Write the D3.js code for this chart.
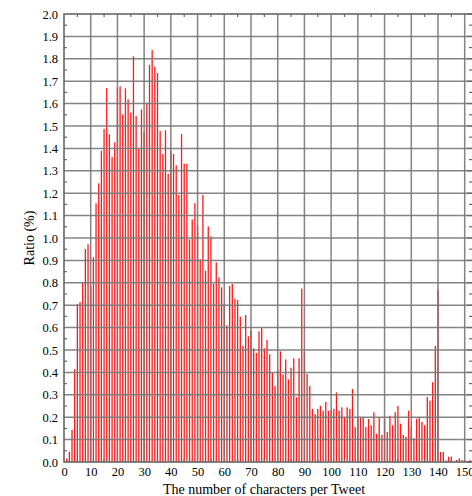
<!DOCTYPE html>
<html>
<head>
<meta charset="utf-8">
<script src="https://cdn.jsdelivr.net/npm/d3@7"></script>
<style>
  body { margin: 0; background: #fff; }
  svg { display: block; }
</style>
</head>
<body>
<div id="vis"></div>
<script>
// tweet length (characters) starts at 1, one ratio (%) per length
const firstLength = 1;
const ratio = [
  0.016, 0.046, 0.143, 0.414, 0.705, 0.714, 0.802, 0.951, 0.972, 0.783,
  0.914, 1.155, 1.244, 1.390, 1.487, 1.670, 1.463, 1.362, 1.427, 1.670,
  1.677, 1.552, 1.668, 1.619, 1.560, 1.811, 1.545, 1.400, 1.574, 1.472,
  1.604, 1.774, 1.839, 1.765, 1.737, 1.478, 1.375, 1.481, 1.287, 1.390,
  1.375, 1.324, 1.192, 1.464, 1.332, 1.332, 0.994, 1.083, 1.156, 1.055,
  0.905, 1.192, 0.854, 1.052, 1.007, 0.795, 0.891, 0.824, 0.780, 0.705,
  0.610, 0.786, 0.795, 0.729, 0.723, 0.649, 0.518, 0.656, 0.561, 0.589,
  0.507, 0.487, 0.583, 0.600, 0.507, 0.545, 0.481, 0.399, 0.339, 0.411,
  0.494, 0.391, 0.458, 0.369, 0.421, 0.463, 0.289, 0.463, 0.774, 0.493,
  0.393, 0.339, 0.237, 0.214, 0.237, 0.251, 0.229, 0.268, 0.229, 0.232,
  0.237, 0.311, 0.229, 0.244, 0.200, 0.244, 0.237, 0.326, 0.156, 0.199,
  0.199, 0.199, 0.156, 0.192, 0.164, 0.222, 0.126, 0.199, 0.121, 0.195,
  0.134, 0.207, 0.164, 0.222, 0.251, 0.171, 0.121, 0.113, 0.229, 0.156,
  0.106, 0.193, 0.199, 0.179, 0.164, 0.290, 0.274, 0.356, 0.518, 0.768,
  0.045, 0.045, 0.007, 0.024, 0.024, 0.003, 0.009, 0.016, 0.009, 0.009,
  0.005, 0.009
];
const xTicks = [0, 10, 20, 30, 40, 50, 60, 70, 80, 90, 100, 110, 120, 130, 140, 150];
const yTicks = [0.0, 0.1, 0.2, 0.3, 0.4, 0.5, 0.6, 0.7, 0.8, 0.9, 1.0,
                1.1, 1.2, 1.3, 1.4, 1.5, 1.6, 1.7, 1.8, 1.9, 2.0];
const xMinor = [5, 15, 25, 35, 45, 55, 65, 75, 85, 95, 105, 115, 125, 135, 145];
const yMinor = yTicks.slice(0, -1).map(v => v + 0.05);

const data = ratio.map((r, i) => ({len: firstLength + i, ratio: r}));

const width = 472;
const height = 496;
const margin = ({top: 14, left: 64, bottom: 34});
const plotRight = 473;   // the frame sits just past the picture edge
const font = 'Liberation Serif, Times New Roman, serif';

const svg = d3.create('svg')
    .attr('width', width)
    .attr('height', height);

// 150 falls at ~465px, the axis box runs on a bit further
const xScale = d3.scaleLinear()
    .domain([0, 150])
    .range([margin.left, margin.left + 400.7]);

const yScale = d3.scaleLinear()
    .domain([0, 2])
    .range([height - margin.bottom, margin.top]);

const y0 = yScale(0);

// bars
svg.append('g')
    .selectAll('rect')
    .data(data)
    .join('rect')
    .attr('x', d => xScale(d.len) - 0.65)
    .attr('y', d => yScale(d.ratio))
    .attr('width', 1.3)
    .attr('height', d => y0 - yScale(d.ratio))
    .attr('fill', '#ff1a1a');

// grid
const grid = svg.append('g')
    .attr('stroke', '#777')
    .attr('stroke-width', 1.5)
    .attr('stroke-opacity', 0.9);

grid.selectAll('.hgrid')
    .data(yTicks.slice(1, -1))
    .join('line')
    .attr('x1', margin.left)
    .attr('x2', plotRight)
    .attr('y1', d => yScale(d))
    .attr('y2', d => yScale(d));

grid.selectAll('.vgrid')
    .data(xTicks.slice(1))
    .join('line')
    .attr('x1', d => xScale(d))
    .attr('x2', d => xScale(d))
    .attr('y1', margin.top)
    .attr('y2', y0);

// minor ticks, inward, on all four sides
const ticks = svg.append('g')
    .attr('stroke', '#666')
    .attr('stroke-width', 1.2);

ticks.selectAll('.lt')
    .data(yMinor)
    .join('line')
    .attr('x1', margin.left)
    .attr('x2', margin.left + 3)
    .attr('y1', d => yScale(d))
    .attr('y2', d => yScale(d));

ticks.selectAll('.rt')
    .data(yMinor)
    .join('line')
    .attr('x1', plotRight - 4)
    .attr('x2', plotRight)
    .attr('y1', d => yScale(d))
    .attr('y2', d => yScale(d));

ticks.selectAll('.rtm')
    .data(yTicks)
    .join('line')
    .attr('x1', plotRight - 6)
    .attr('x2', plotRight)
    .attr('y1', d => yScale(d))
    .attr('y2', d => yScale(d));

ticks.selectAll('.tt')
    .data(xMinor)
    .join('line')
    .attr('x1', d => xScale(d))
    .attr('x2', d => xScale(d))
    .attr('y1', margin.top)
    .attr('y2', margin.top + 3);

ticks.selectAll('.bt')
    .data(xMinor)
    .join('line')
    .attr('x1', d => xScale(d))
    .attr('x2', d => xScale(d))
    .attr('y1', y0)
    .attr('y2', y0 - 3);

// frame
svg.append('rect')
    .attr('x', margin.left)
    .attr('y', margin.top)
    .attr('width', plotRight - margin.left)
    .attr('height', y0 - margin.top)
    .attr('fill', 'none')
    .attr('stroke', '#666')
    .attr('stroke-width', 1.6);

// y labels
const yAxis = d3.axisLeft(yScale)
    .tickValues(yTicks)
    .tickFormat(d3.format('.1f'))
    .tickSize(0)
    .tickPadding(6);

svg.append('g')
    .attr('transform', `translate(${margin.left},0)`)
    .call(yAxis)
    .call(g => g.select('.domain').remove())
    .call(g => g.selectAll('text')
        .attr('font-family', font)
        .attr('font-size', 12.5)
        .attr('fill', '#000'));

// x labels
const xAxis = d3.axisBottom(xScale)
    .tickValues(xTicks)
    .tickFormat(d3.format('d'))
    .tickSize(0)
    .tickPadding(5);

svg.append('g')
    .attr('transform', `translate(0,${y0})`)
    .call(xAxis)
    .call(g => g.select('.domain').remove())
    .call(g => g.selectAll('text')
        .attr('font-family', font)
        .attr('font-size', 12.5)
        .attr('fill', '#000'));

// axis titles
svg.append('text')
    .attr('x', 264)
    .attr('y', 494)
    .attr('text-anchor', 'middle')
    .attr('font-family', font)
    .attr('font-size', 14)
    .attr('fill', '#000')
    .text('The number of characters per Tweet');

svg.append('text')
    .attr('transform', 'rotate(-90)')
    .attr('x', -238)
    .attr('y', 34)
    .attr('text-anchor', 'middle')
    .attr('font-family', font)
    .attr('font-size', 14)
    .attr('fill', '#000')
    .text('Ratio (%)');

document.getElementById('vis').appendChild(svg.node());
</script>
</body>
</html>
